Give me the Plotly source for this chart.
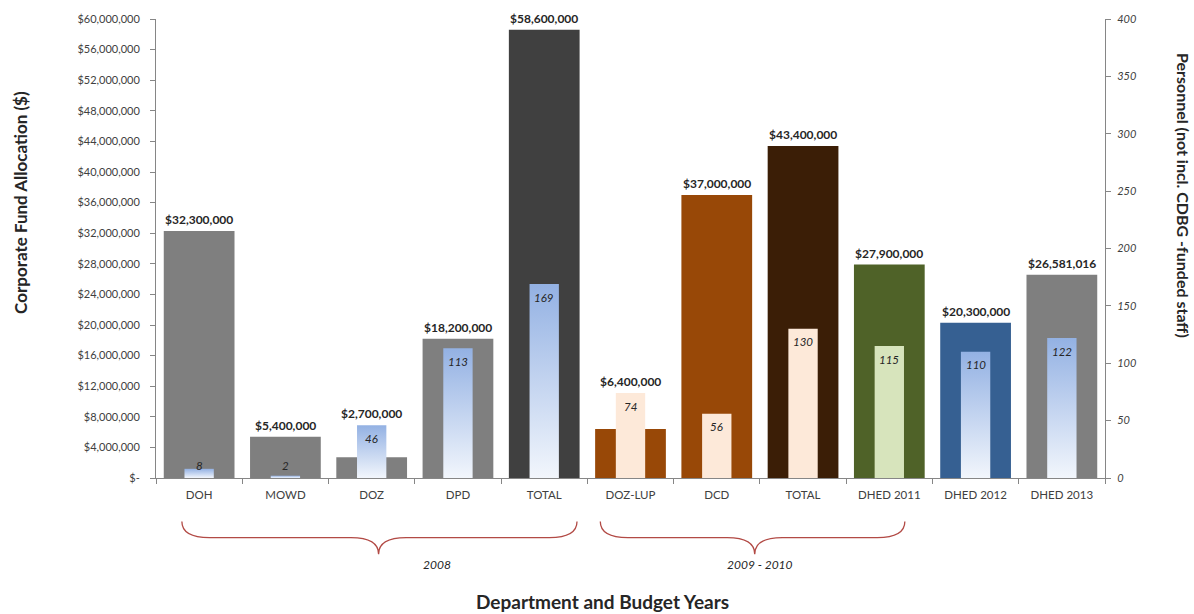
import plotly.graph_objects as go

categories = ["DOH", "MOWD", "DOZ", "DPD", "TOTAL", "DOZ-LUP", "DCD", "TOTAL",
              "DHED 2011", "DHED 2012", "DHED 2013"]
funds = [32300000, 5400000, 2700000, 18200000, 58600000, 6400000, 37000000,
         43400000, 27900000, 20300000, 26581016]
fund_labels = ["$32,300,000", "$5,400,000", "$2,700,000", "$18,200,000", "$58,600,000",
               "$6,400,000", "$37,000,000", "$43,400,000", "$27,900,000", "$20,300,000",
               "$26,581,016"]
personnel = [8, 2, 46, 113, 169, 74, 56, 130, 115, 110, 122]
left_ticks = list(range(0, 60000001, 4000000))
left_ticktext = ["$-"] + ["${:,}".format(v) for v in left_ticks[1:]]
right_ticks = list(range(0, 401, 50))

fund_colors = ["#7f7f7f", "#7f7f7f", "#7f7f7f", "#7f7f7f", "#404040", "#984807",
               "#984807", "#3b1e06", "#4f6228", "#366092", "#7f7f7f"]
blue_g = ["#f2f6fc", "#93b1e3"]
peach_g = ["#fde9d9", "#fde9d9"]
green_g = ["#d7e4bc", "#d7e4bc"]
pers_grad = [blue_g, blue_g, blue_g, blue_g, blue_g, peach_g, peach_g, peach_g,
             green_g, blue_g, blue_g]

FONT = "Lato"
xs = list(range(len(categories)))
fig = go.Figure()
fig.add_trace(go.Bar(x=xs, y=funds, width=0.82, marker=dict(color=fund_colors, line=dict(width=0)),
                     hoverinfo="skip", showlegend=False))

w = 0.17
for i, v in enumerate(personnel):
    fig.add_trace(go.Scatter(
        x=[i - w, i - w, i + w, i + w, i - w], y=[0, v, v, 0, 0], yaxis="y2",
        mode="lines", line=dict(width=0), fill="toself",
        fillgradient=dict(type="vertical",
                          colorscale=[[0, pers_grad[i][0]], [1, pers_grad[i][1]]]),
        hoverinfo="skip", showlegend=False))

ann = []
scale = 60000000 / 400
for i in xs:
    top = max(funds[i], personnel[i] * scale)
    ann.append(dict(x=i, y=top, xref="x", yref="y", text="<b>" + fund_labels[i] + "</b>",
                    showarrow=False, yanchor="bottom", yshift=2,
                    font=dict(family=FONT, size=12, color="#262626")))
    ann.append(dict(x=i, y=max(personnel[i], 22), xref="x", yref="y2",
                    text="<i>" + str(personnel[i]) + "</i>", showarrow=False,
                    yanchor="middle", yshift=-13,
                    font=dict(family=FONT, size=11.5, color="#262626")))

# braces
def brace(x0, xc, x1, ytop=-0.095, ymid=-0.13, ybot=-0.166, d=0.32):
    return (f"M {x0},{ytop} Q {x0},{ymid} {x0 + d},{ymid} L {xc - d},{ymid} "
            f"Q {xc},{ymid} {xc},{ybot} Q {xc},{ymid} {xc + d},{ymid} "
            f"L {x1 - d},{ymid} Q {x1},{ymid} {x1},{ytop}")

shapes = [
    dict(type="path", xref="x", yref="paper", path=brace(-0.2, 2.08, 4.38),
         line=dict(color="#b24a45", width=1.3)),
    dict(type="path", xref="x", yref="paper", path=brace(4.65, 6.44, 8.18),
         line=dict(color="#b24a45", width=1.3)),
]
C = dict(xanchor="center", yanchor="middle", showarrow=False)
ann += [
    dict(x=2.76, y=-0.188, xref="x", yref="paper", text="<i>2008</i>",
         font=dict(family=FONT, size=12, color="#262626"), **C),
    dict(x=6.5, y=-0.188, xref="x", yref="paper", text="<i>2009 - 2010</i>",
         font=dict(family=FONT, size=12, color="#262626"), **C),
    dict(x=0.47, y=-0.27, xref="paper", yref="paper", text="<b>Department and Budget Years</b>",
         font=dict(family=FONT, size=19, color="#262626"), **C),
    dict(x=-0.143, y=0.60, xref="paper", yref="paper", text="<b>Corporate Fund Allocation ($)</b>",
         textangle=-90, font=dict(family=FONT, size=17, color="#262626"), **C),
    dict(x=1.082, y=0.615, xref="paper", yref="paper",
         text="<b>Personnel (not incl. CDBG -funded staff)</b>",
         textangle=90, font=dict(family=FONT, size=16, color="#262626"), **C),
]

fig.update_layout(
    width=1194, height=614, margin=dict(l=156, r=89, t=15, b=136),
    paper_bgcolor="white", plot_bgcolor="white", barmode="overlay",
    font=dict(family=FONT, color="#404040"),
    annotations=ann, shapes=shapes,
    xaxis=dict(range=[-0.5, 10.5], tickmode="array", tickvals=xs, ticktext=categories,
               ticks="", showgrid=False, zeroline=False, showline=True, linecolor="#868686",
               ticklabelstandoff=6,
               tickfont=dict(family=FONT, size=11.5, color="#404040"),
               minor=dict(tickmode="linear", tick0=-0.5, dtick=1, ticks="outside",
                          ticklen=5, tickcolor="#868686", showgrid=False)),
    yaxis=dict(range=[0, 60000000], tickmode="array", tickvals=left_ticks,
               ticktext=left_ticktext, ticks="outside", ticklen=5, tickcolor="#868686",
               showgrid=False, zeroline=False, showline=True, linecolor="#868686",
               ticklabelstandoff=8,
               tickfont=dict(family=FONT, size=11, color="#404040")),
    yaxis2=dict(range=[0, 400], overlaying="y", side="right", tickmode="array",
                tickvals=right_ticks, ticks="outside", ticklen=5, tickcolor="#868686",
                showgrid=False, zeroline=False, showline=True, linecolor="#868686",
                ticklabelstandoff=4,
                tickfont=dict(family=FONT, size=11, color="#404040", style="italic")),
)

fig.write_html("out.html")
